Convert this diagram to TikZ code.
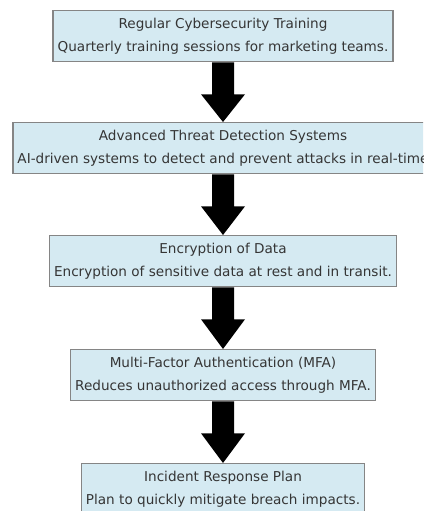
\documentclass[tikz,border=0pt]{standalone}
\usepackage{fontspec}
\setmainfont{DejaVu Sans}
\usetikzlibrary{calc}
\definecolor{boxfill}{HTML}{D5EAF2}
\definecolor{boxline}{HTML}{858585}
\definecolor{boxtext}{HTML}{353535}
\tikzset{
  stepbox/.style={rectangle, draw=boxline, fill=boxfill, line width=1.3pt,
    text=boxtext, align=center, anchor=north, minimum height=51pt,
    inner xsep=4.5pt, inner ysep=3pt,
    font={\fontsize{13.6pt}{23pt}\selectfont}},
  bigarrow/.style={fill=black}
}
\newcommand{\flowarrow}[2]{%
  \fill[bigarrow] ($(#1.south)+(-11pt,0)$) -- ($(#1.south)+(-11pt,-32pt)$)
    -- ($(#1.south)+(-22pt,-32pt)$) -- (#2.north)
    -- ($(#1.south)+(22pt,-32pt)$) -- ($(#1.south)+(11pt,-32pt)$)
    -- ($(#1.south)+(11pt,0)$) -- cycle;}
\begin{document}
\begin{tikzpicture}[x=1pt,y=1pt]
\useasboundingbox (0,0) rectangle (423,-511);
\clip (0,0) rectangle (423,-511);
\fill[white] (0,0) rectangle (423,-511);
\node[stepbox] (n1) at (223,-10) {Regular Cybersecurity Training\\Quarterly training sessions for marketing teams.};
\node[stepbox] (n2) at (223,-122) {Advanced Threat Detection Systems\\AI-driven systems to detect and prevent attacks in real-time};
\node[stepbox] (n3) at (223,-235) {Encryption of Data\\Encryption of sensitive data at rest and in transit.};
\node[stepbox] (n4) at (223,-349) {Multi-Factor Authentication (MFA)\\Reduces unauthorized access through MFA.};
\node[stepbox] (n5) at (223,-463) {Incident Response Plan\\Plan to quickly mitigate breach impacts.};
\flowarrow{n1}{n2}
\flowarrow{n2}{n3}
\flowarrow{n3}{n4}
\flowarrow{n4}{n5}
\end{tikzpicture}
\end{document}
